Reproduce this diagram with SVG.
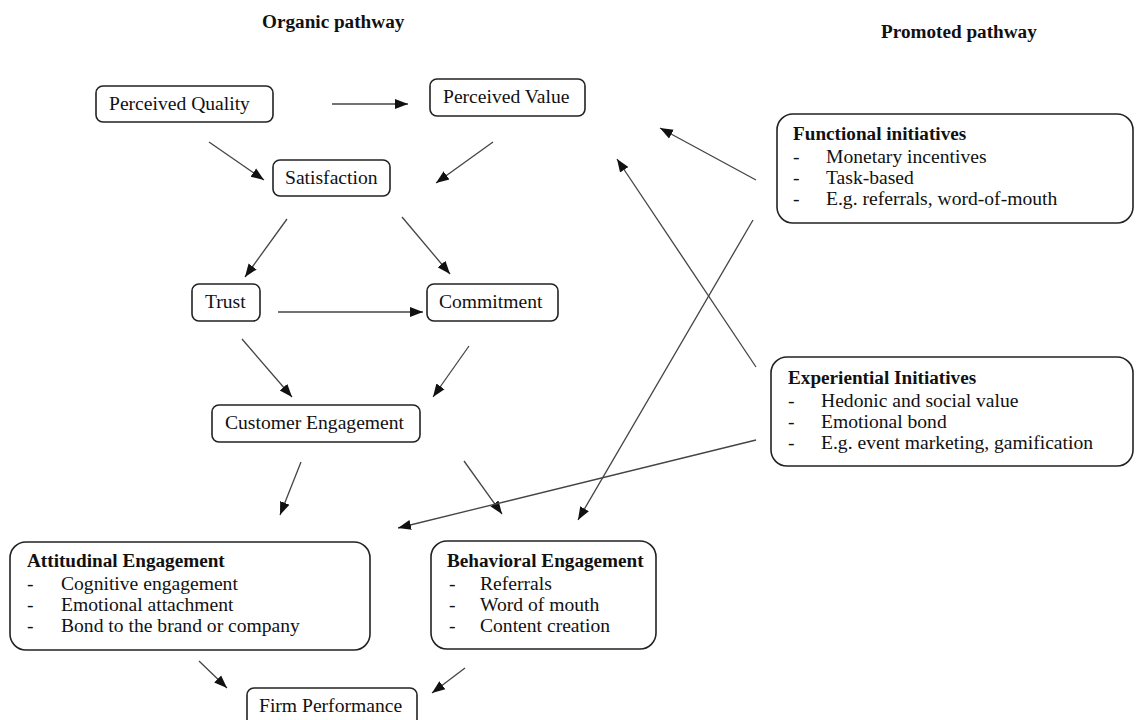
<svg xmlns="http://www.w3.org/2000/svg" width="1137" height="720" viewBox="0 0 1137 720">
<style>
  .box{fill:#fff;stroke:#222;stroke-width:1.6}
  .t{font-family:"Liberation Serif","Times New Roman",serif;font-size:19.6px;fill:#111}
  .b{font-family:"Liberation Serif","Times New Roman",serif;font-size:19.2px;font-weight:bold;fill:#111}
  .c{stroke:#444;stroke-width:1.3;fill:none;marker-end:url(#ah)}
</style>
<defs>
  <marker id="ah" markerUnits="userSpaceOnUse" markerWidth="14" markerHeight="12" viewBox="0 0 14 12" refX="13" refY="6" orient="auto">
    <path d="M0,1 L13,6 L0,11 Z" fill="#111"/>
  </marker>
</defs>
<rect width="1137" height="720" fill="#fff"/>
<text class="b" x="262" y="28">Organic pathway</text>
<text class="b" x="881" y="38">Promoted pathway</text>

<g id="perceived-quality"><rect class="box" x="96" y="86" width="177" height="36" rx="7"/><text class="t" x="109" y="110">Perceived Quality</text></g>
<g id="perceived-value"><rect class="box" x="430" y="79" width="155" height="37" rx="7"/><text class="t" x="443" y="103">Perceived Value</text></g>
<g id="satisfaction"><rect class="box" x="273" y="160" width="117" height="36" rx="7"/><text class="t" x="285" y="184">Satisfaction</text></g>
<g id="trust"><rect class="box" x="192" y="284" width="68" height="37" rx="7"/><text class="t" x="205" y="308">Trust</text></g>
<g id="commitment"><rect class="box" x="427" y="284" width="131" height="37" rx="7"/><text class="t" x="439" y="308">Commitment</text></g>
<g id="customer-engagement"><rect class="box" x="212" y="405" width="208" height="37" rx="7"/><text class="t" x="225" y="429">Customer Engagement</text></g>
<g id="firm-performance"><rect class="box" x="247" y="688" width="170" height="40" rx="7"/><text class="t" x="259" y="712">Firm Performance</text></g>

<g id="attitudinal-engagement"><rect class="box" x="10" y="542" width="360" height="108" rx="16"/>
  <text class="b" x="27" y="567">Attitudinal Engagement</text>
  <text class="t" x="27" y="590">-</text><text class="t" x="61" y="590">Cognitive engagement</text>
  <text class="t" x="27" y="611">-</text><text class="t" x="61" y="611">Emotional attachment</text>
  <text class="t" x="27" y="632">-</text><text class="t" x="61" y="632">Bond to the brand or company</text>
</g>
<g id="behavioral-engagement"><rect class="box" x="431" y="541" width="225" height="108" rx="16"/>
  <text class="b" x="447" y="567">Behavioral Engagement</text>
  <text class="t" x="449" y="590">-</text><text class="t" x="480" y="590">Referrals</text>
  <text class="t" x="449" y="611">-</text><text class="t" x="480" y="611">Word of mouth</text>
  <text class="t" x="449" y="632">-</text><text class="t" x="480" y="632">Content creation</text>
</g>
<g id="functional-initiatives"><rect class="box" x="777" y="114" width="356" height="109" rx="16"/>
  <text class="b" x="793" y="140">Functional initiatives</text>
  <text class="t" x="793" y="163">-</text><text class="t" x="826" y="163">Monetary incentives</text>
  <text class="t" x="793" y="184">-</text><text class="t" x="826" y="184">Task-based</text>
  <text class="t" x="793" y="205">-</text><text class="t" x="826" y="205">E.g. referrals, word-of-mouth</text>
</g>
<g id="experiential-initiatives"><rect class="box" x="771" y="357" width="362" height="109" rx="16"/>
  <text class="b" x="788" y="384">Experiential Initiatives</text>
  <text class="t" x="788" y="407">-</text><text class="t" x="821" y="407">Hedonic and social value</text>
  <text class="t" x="788" y="428">-</text><text class="t" x="821" y="428">Emotional bond</text>
  <text class="t" x="788" y="449">-</text><text class="t" x="821" y="449">E.g. event marketing, gamification</text>
</g>

<g id="connectors">
  <line class="c" x1="332" y1="104" x2="408" y2="104"/>
  <line class="c" x1="209" y1="142" x2="264" y2="180"/>
  <line class="c" x1="493" y1="142" x2="436" y2="183"/>
  <line class="c" x1="287" y1="219" x2="245" y2="277"/>
  <line class="c" x1="402" y1="217" x2="450" y2="274"/>
  <line class="c" x1="278" y1="312" x2="423" y2="312"/>
  <line class="c" x1="242" y1="339" x2="292" y2="397"/>
  <line class="c" x1="469" y1="346" x2="433" y2="397"/>
  <line class="c" x1="301" y1="462" x2="280" y2="515"/>
  <line class="c" x1="464" y1="461" x2="502" y2="514"/>
  <line class="c" x1="199" y1="661" x2="227" y2="688"/>
  <line class="c" x1="465" y1="668" x2="432" y2="693"/>
  <line class="c" x1="756" y1="180" x2="660" y2="128"/>
  <line class="c" x1="756" y1="367" x2="617" y2="159"/>
  <line class="c" x1="753" y1="220" x2="578" y2="520"/>
  <line class="c" x1="756" y1="440" x2="398" y2="528"/>
</g>
</svg>
